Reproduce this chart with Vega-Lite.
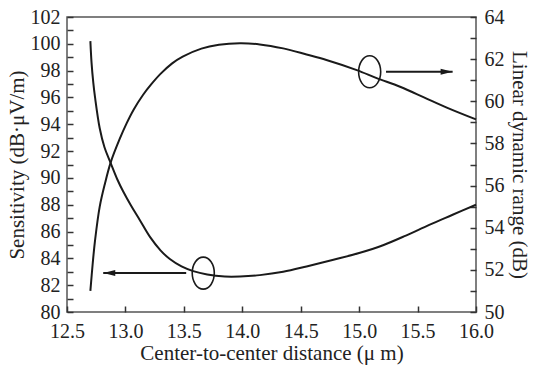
{
  "$schema": "https://vega.github.io/schema/vega-lite/v6.json",
  "width": 409,
  "height": 295,
  "autosize": "none",
  "padding": {"left": 67, "top": 17, "right": 58, "bottom": 55},
  "background": "white",
  "config": {
    "font": "Liberation Serif",
    "view": {"stroke": "#555555", "strokeWidth": 1.5},
    "axis": {
      "domain": false,
      "grid": false,
      "ticks": true,
      "zindex": 1,
      "offset": -6,
      "tickSize": 6,
      "labelFont": "Liberation Serif",
      "labelFontSize": 20,
      "labelColor": "#222222",
      "titleFont": "Liberation Serif",
      "titleFontSize": 21,
      "titleFontWeight": "normal",
      "titleColor": "#222222",
      "tickColor": "#333333",
      "tickWidth": 1.5,
      "labelOverlap": false,
      "labelFlush": false
    }
  },
  "datasets": {
    "sens": [
      {"d": 12.70, "s": 100.2}, {"d": 12.71, "s": 98.6}, {"d": 12.725, "s": 97.1}, {"d": 12.74, "s": 96.0}, {"d": 12.78, "s": 93.7},
      {"d": 12.82, "s": 92.3}, {"d": 12.874, "s": 91.1}, {"d": 12.93, "s": 89.9}, {"d": 12.98, "s": 89.0},
      {"d": 13.05, "s": 87.9}, {"d": 13.12, "s": 86.9}, {"d": 13.21, "s": 85.6}, {"d": 13.30, "s": 84.6},
      {"d": 13.38, "s": 83.95}, {"d": 13.48, "s": 83.4}, {"d": 13.58, "s": 83.05}, {"d": 13.70, "s": 82.8},
      {"d": 13.85, "s": 82.65}, {"d": 13.98, "s": 82.65}, {"d": 14.15, "s": 82.75}, {"d": 14.35, "s": 83.0},
      {"d": 14.55, "s": 83.4}, {"d": 14.78, "s": 83.9}, {"d": 15.0, "s": 84.4}, {"d": 15.21, "s": 85.0},
      {"d": 15.4, "s": 85.7}, {"d": 15.6, "s": 86.5}, {"d": 15.8, "s": 87.25}, {"d": 16.0, "s": 88.0}
    ],
    "ldr": [
      {"d": 12.70, "r": 51.0}, {"d": 12.72, "r": 52.3}, {"d": 12.74, "r": 53.4}, {"d": 12.78, "r": 55.0},
      {"d": 12.825, "r": 56.1}, {"d": 12.874, "r": 57.1}, {"d": 12.95, "r": 58.2}, {"d": 13.01, "r": 58.95},
      {"d": 13.07, "r": 59.6}, {"d": 13.15, "r": 60.3}, {"d": 13.22, "r": 60.8}, {"d": 13.30, "r": 61.3},
      {"d": 13.40, "r": 61.8}, {"d": 13.49, "r": 62.12}, {"d": 13.65, "r": 62.5}, {"d": 13.80, "r": 62.68},
      {"d": 13.98, "r": 62.75}, {"d": 14.15, "r": 62.7}, {"d": 14.35, "r": 62.51}, {"d": 14.55, "r": 62.22},
      {"d": 14.72, "r": 61.96}, {"d": 14.98, "r": 61.48}, {"d": 15.15, "r": 61.1}, {"d": 15.35, "r": 60.69},
      {"d": 15.55, "r": 60.2}, {"d": 15.75, "r": 59.7}, {"d": 16.0, "r": 59.14}
    ],
    "annL": [{"x": 13.666, "x2": 12.81, "xs": 13.52, "y": 82.9}],
    "annR": [{"x": 15.09, "x2": 15.8, "xs": 15.23, "y": 61.4}]
  },
  "layer": [
    {
      "encoding": {
        "y": {
          "type": "quantitative",
          "scale": {"domain": [80, 102], "nice": false, "zero": false},
          "axis": {
            "orient": "left",
            "title": "Sensitivity (dB·μV/m)",
            "values": [80,81,82,83,84,85,86,87,88,89,90,91,92,93,94,95,96,97,98,99,100,101,102],
            "labelExpr": "datum.value % 2 == 0 ? datum.label : ''",
            "labelPadding": 7,
            "titlePadding": 3
          }
        }
      },
      "layer": [
        {
          "data": {"name": "sens"},
          "mark": {"type": "line", "color": "#1a1a1a", "strokeWidth": 2, "interpolate": "catmull-rom"},
          "encoding": {
            "x": {
              "field": "d", "type": "quantitative",
              "scale": {"domain": [12.5, 16.0], "nice": false, "zero": false},
              "axis": {
                "title": "Center-to-center distance (μ m)",
                "values": [12.5,12.75,13,13.25,13.5,13.75,14,14.25,14.5,14.75,15,15.25,15.5,15.75,16],
                "labelExpr": "(datum.value * 2) % 1 == 0 ? format(datum.value, '.1f') : ''",
                "labelPadding": 9,
                "titlePadding": 1
              }
            },
            "y": {"field": "s"}
          }
        },
        {
          "data": {"name": "annL"},
          "mark": {"type": "rule", "color": "#1a1a1a", "strokeWidth": 2},
          "encoding": {"x": {"field": "xs", "type": "quantitative"}, "x2": {"field": "x2"}, "y": {"field": "y"}}
        },
        {
          "data": {"name": "annL"},
          "mark": {"type": "point", "shape": "M0,0L2,-0.5L2,0.5Z", "size": 144, "filled": true, "color": "#1a1a1a", "opacity": 1},
          "encoding": {"x": {"field": "x2", "type": "quantitative"}, "y": {"field": "y"}}
        },
        {
          "data": {"name": "annL"},
          "mark": {"type": "point", "shape": "M0,-1C0.381,-1,0.69,-0.552,0.69,0C0.69,0.552,0.381,1,0,1C-0.381,1,-0.69,0.552,-0.69,0C-0.69,-0.552,-0.381,-1,0,-1Z", "size": 1024, "filled": false, "color": "#1a1a1a", "strokeWidth": 1.6, "opacity": 1},
          "encoding": {"x": {"field": "x", "type": "quantitative"}, "y": {"field": "y"}}
        }
      ]
    },
    {
      "encoding": {
        "y": {
          "type": "quantitative",
          "scale": {"domain": [50, 64], "nice": false, "zero": false},
          "axis": {
            "orient": "right",
            "title": "Linear dynamic range (dB)",
            "values": [50,51,52,53,54,55,56,57,58,59,60,61,62,63,64],
            "labelExpr": "datum.value % 2 == 0 ? datum.label : ''",
            "labelPadding": 8,
            "titlePadding": 4
          }
        }
      },
      "layer": [
        {
          "data": {"name": "ldr"},
          "mark": {"type": "line", "color": "#1a1a1a", "strokeWidth": 2, "interpolate": "catmull-rom"},
          "encoding": {"x": {"field": "d", "type": "quantitative"}, "y": {"field": "r"}}
        },
        {
          "data": {"name": "annR"},
          "mark": {"type": "rule", "color": "#1a1a1a", "strokeWidth": 2},
          "encoding": {"x": {"field": "xs", "type": "quantitative"}, "x2": {"field": "x2"}, "y": {"field": "y"}}
        },
        {
          "data": {"name": "annR"},
          "mark": {"type": "point", "shape": "M0,0L-2,-0.5L-2,0.5Z", "size": 144, "filled": true, "color": "#1a1a1a", "opacity": 1},
          "encoding": {"x": {"field": "x2", "type": "quantitative"}, "y": {"field": "y"}}
        },
        {
          "data": {"name": "annR"},
          "mark": {"type": "point", "shape": "M0,-1C0.381,-1,0.69,-0.552,0.69,0C0.69,0.552,0.381,1,0,1C-0.381,1,-0.69,0.552,-0.69,0C-0.69,-0.552,-0.381,-1,0,-1Z", "size": 1024, "filled": false, "color": "#1a1a1a", "strokeWidth": 1.6, "opacity": 1},
          "encoding": {"x": {"field": "x", "type": "quantitative"}, "y": {"field": "y"}}
        }
      ]
    }
  ],
  "resolve": {"scale": {"y": "independent"}}
}
